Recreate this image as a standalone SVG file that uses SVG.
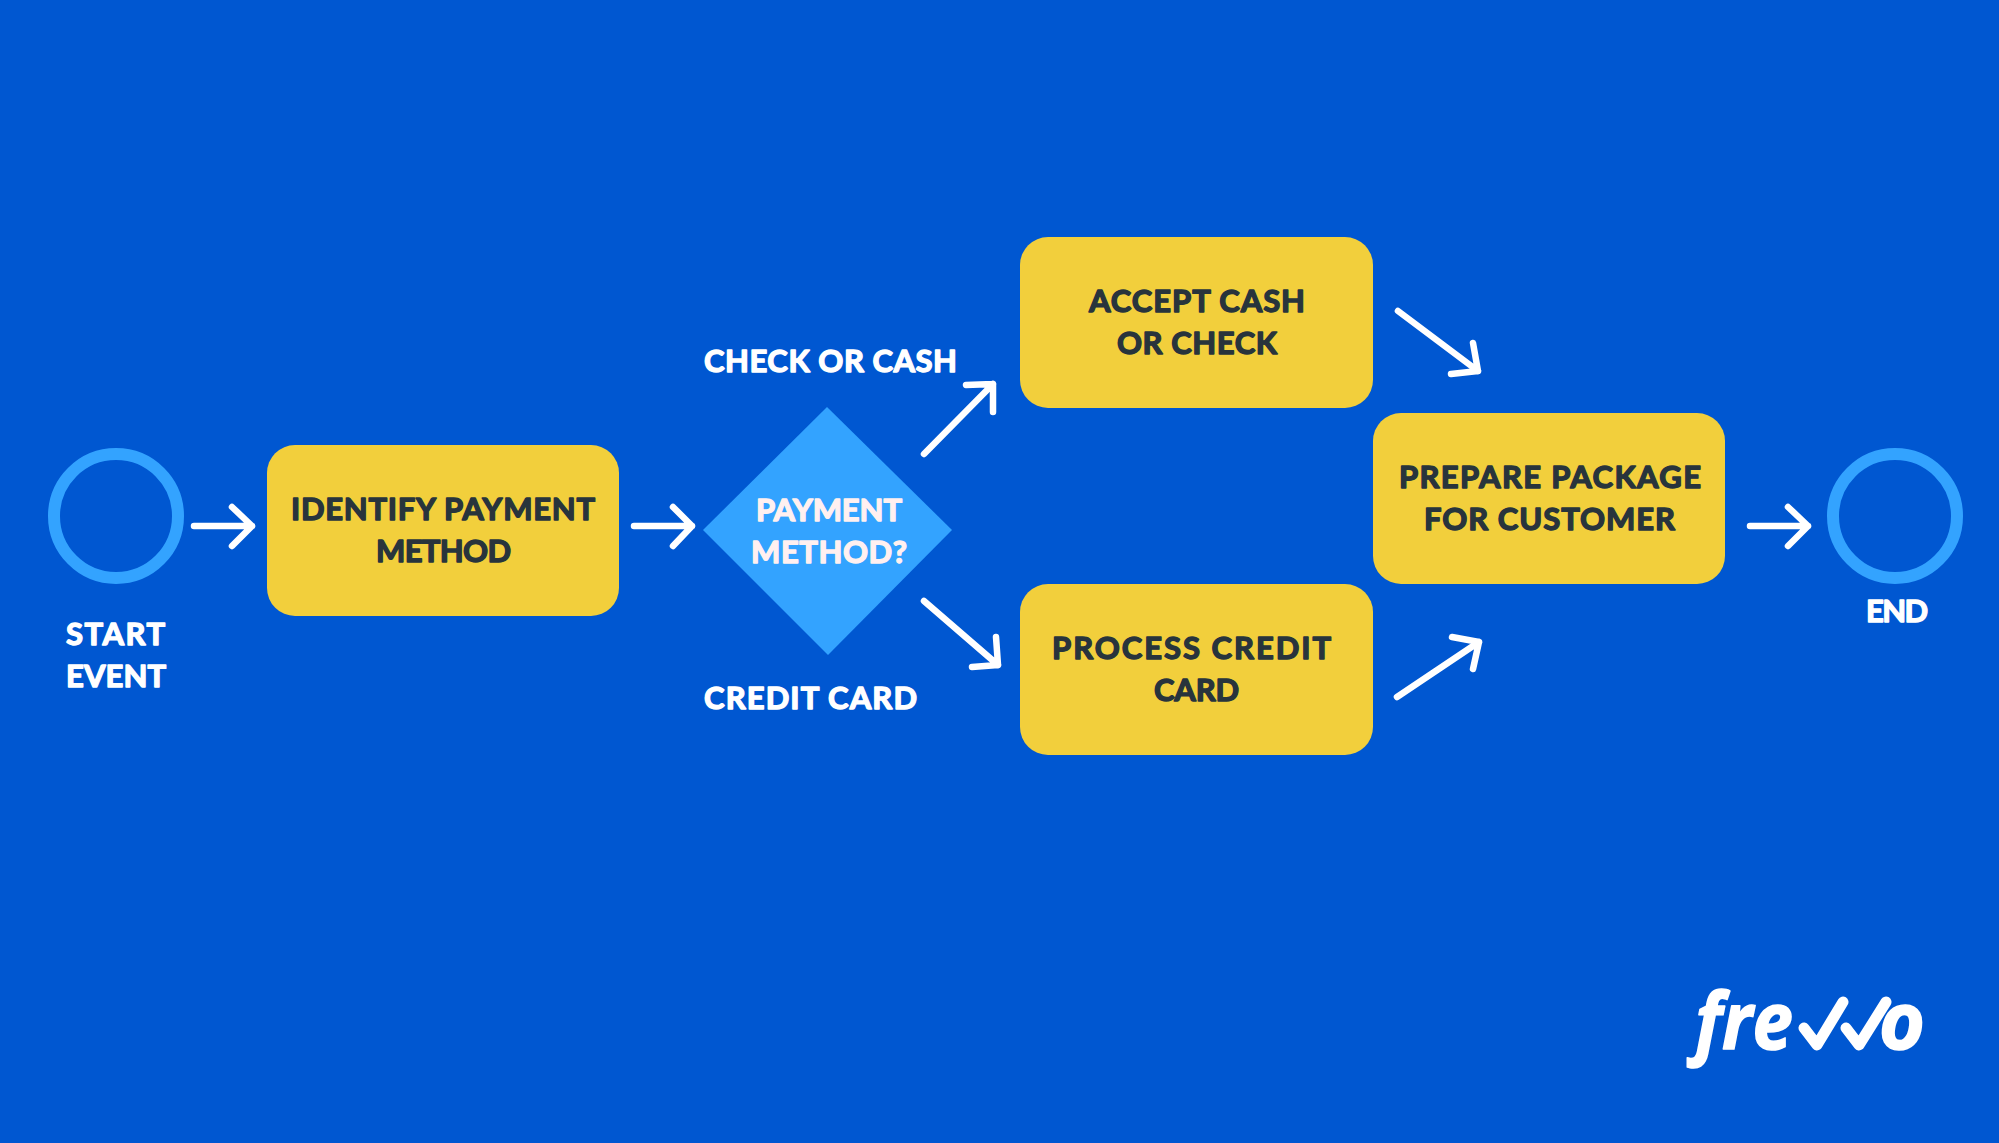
<svg xmlns="http://www.w3.org/2000/svg" width="1999" height="1143" viewBox="0 0 1999 1143">
<style>
.bg{fill:#0057d1}
.box{fill:#f2cf3c}
.ring{fill:none;stroke:#33a3ff;stroke-width:12}
.dia{fill:#33a3ff}
.arrow{fill:none;stroke:#fff;stroke-width:6.5;stroke-linecap:round;stroke-linejoin:round}
text{font-family:"Lato","Liberation Sans",sans-serif;font-weight:700;font-size:31px;stroke-width:1.4px;stroke-linejoin:round;paint-order:stroke}
.dark{fill:#28343c;stroke:#28343c}
.light{fill:#fff;stroke:#fff}
.pink{fill:#fff0f0;stroke:#fff0f0}
.logo{font-family:"Open Sans","Liberation Sans",sans-serif;font-style:italic;font-weight:700;font-size:79px;fill:#fff;stroke:#fff;stroke-width:1.5px}
.check{fill:none;stroke:#fff;stroke-width:11;stroke-linecap:round;stroke-linejoin:round}
</style>
<rect class="bg" width="1999" height="1143"/>
<g id="connectors">
<path class="arrow" d="M194 526H252M232 507L252 526L232 546"/>
<path class="arrow" d="M634 526H692M673 507L692 526L673 546"/>
<path class="arrow" d="M924 454L993 384M966 385L993 384L993 412"/>
<path class="arrow" d="M924 601L998 665M972 667L998 665L996 637"/>
<path class="arrow" d="M1398 311L1478 371M1451 374L1478 371L1473 343"/>
<path class="arrow" d="M1397 697L1479 642M1452 637L1479 642L1473 669"/>
<path class="arrow" d="M1750 526H1808M1788 507L1808 526L1788 546"/>
</g>
<g id="start">
<circle class="ring" cx="116" cy="516" r="62"/>
<text class="light" x="66" y="645" textLength="99">START</text>
<text class="light" x="66" y="687" textLength="100">EVENT</text>
</g>
<g id="identify">
<rect class="box" x="267" y="445" width="352" height="171" rx="28"/>
<text class="dark" x="291" y="520" textLength="304">IDENTIFY PAYMENT</text>
<text class="dark" x="376" y="562" textLength="135">METHOD</text>
</g>
<g id="decision">
<polygon class="dia" points="703,530 827,407 952,530 828,655"/>
<text class="pink" x="756" y="521" textLength="146">PAYMENT</text>
<text class="pink" x="751" y="563" textLength="156">METHOD?</text>
</g>
<g id="label-check">
<text class="light" x="704" y="372" textLength="253">CHECK OR CASH</text>
</g>
<g id="label-credit">
<text class="light" x="704" y="709" textLength="213">CREDIT CARD</text>
</g>
<g id="accept">
<rect class="box" x="1020" y="237" width="353" height="171" rx="28"/>
<text class="dark" x="1089" y="312" textLength="216">ACCEPT CASH</text>
<text class="dark" x="1117" y="354" textLength="160">OR CHECK</text>
</g>
<g id="process">
<rect class="box" x="1020" y="584" width="353" height="171" rx="28"/>
<text class="dark" x="1052" y="659" textLength="279">PROCESS CREDIT</text>
<text class="dark" x="1154" y="701" textLength="85">CARD</text>
</g>
<g id="prepare">
<rect class="box" x="1373" y="413" width="352" height="171" rx="28"/>
<text class="dark" x="1399" y="488" textLength="302">PREPARE PACKAGE</text>
<text class="dark" x="1424" y="530" textLength="251">FOR CUSTOMER</text>
</g>
<g id="end">
<circle class="ring" cx="1895" cy="516" r="62"/>
<text class="light" x="1866" y="622" textLength="62">END</text>
</g>
<g id="logo">
<text class="logo" x="1695" y="1049" textLength="98" lengthAdjust="spacingAndGlyphs">fre</text>
<path class="check" d="M1804 1028L1817 1045L1843 1002"/>
<path class="check" d="M1846 1028L1859 1045L1886 1002"/>
<text class="logo" x="1879" y="1049" textLength="46" lengthAdjust="spacingAndGlyphs">o</text>
</g>
</svg>
